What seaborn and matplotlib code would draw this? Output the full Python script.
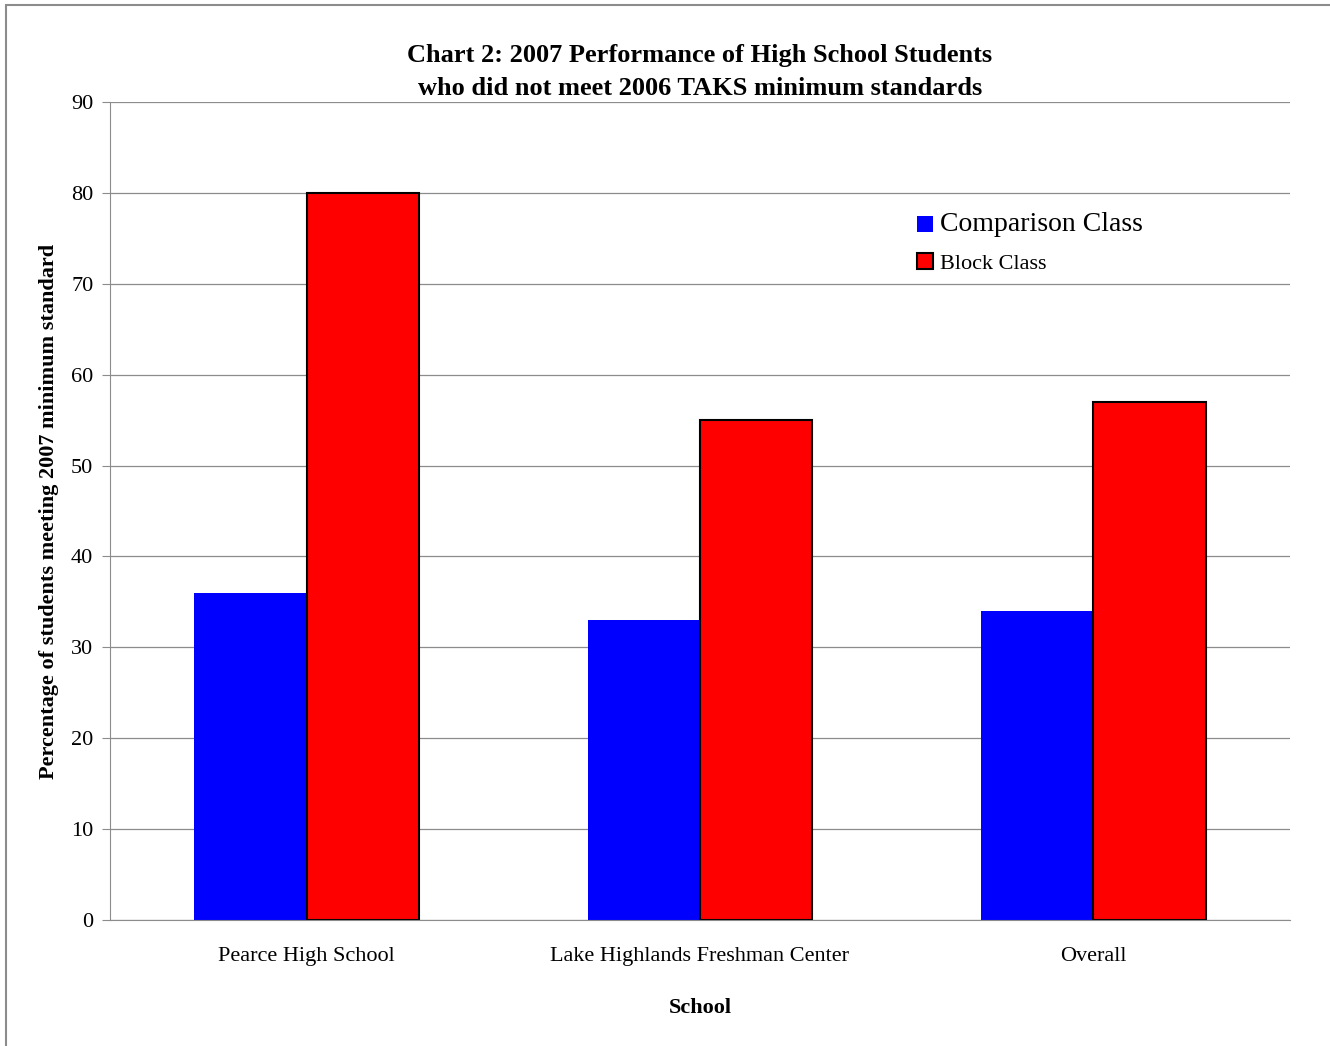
import pandas as pd
import matplotlib
matplotlib.use("Agg")
import matplotlib.pyplot as plt
import seaborn as sns
from matplotlib.patches import Patch, Rectangle

# Data
schools = ["Pearce High School", "Lake Highlands Freshman Center", "Overall"]
comparison = [36, 33, 34]
block = [80, 55, 57]
classes = ["Comparison Class", "Block Class"]
colors = {"Comparison Class": "#0000FF", "Block Class": "#FF0000"}

df = pd.DataFrame({
    "School": schools * 2,
    "Class": [classes[0]] * 3 + [classes[1]] * 3,
    "Value": comparison + block,
})

sns.set_style("white")
plt.rcParams["font.family"] = ["Liberation Serif", "DejaVu Serif"]
plt.rcParams["text.color"] = "black"
plt.rcParams["axes.labelcolor"] = "black"
plt.rcParams["xtick.color"] = "black"
plt.rcParams["ytick.color"] = "black"

fig = plt.figure(figsize=(13.3, 10.46), dpi=100)
ax = fig.add_axes([110 / 1330, 1 - 920 / 1046, 1180 / 1330, 818 / 1046])

sns.barplot(data=df, x="School", y="Value", hue="Class", order=schools,
            hue_order=classes, palette=colors, width=0.571, gap=0,
            saturation=1, ax=ax, legend=False)

# edges: comparison bars plain, block bars outlined black
for bar in ax.containers[0]:
    bar.set_edgecolor("none")
for bar in ax.containers[1]:
    bar.set_edgecolor("black")
    bar.set_linewidth(1.5)

ax.set_ylim(0, 90)
ax.set_xlim(-0.5, 2.5)
ax.set_yticks(range(0, 91, 10))
ax.yaxis.grid(True, color="#8c8c8c", linewidth=0.9)
ax.set_axisbelow(True)
for s in ["top", "right"]:
    ax.spines[s].set_visible(False)
for s in ["left", "bottom"]:
    ax.spines[s].set_color("#8c8c8c")
ax.tick_params(axis="y", left=True, length=6, color="#8c8c8c",
               labelcolor="black", labelsize=16, pad=6)
ax.tick_params(axis="x", bottom=False, labelcolor="black", labelsize=16, pad=16)

ax.set_xlabel("School", fontsize=16, fontweight="bold", labelpad=23)
ax.set_ylabel("Percentage of students meeting 2007 minimum standard",
              fontsize=16, fontweight="bold", labelpad=9)
ax.set_title("Chart 2: 2007 Performance of High School Students\n"
             "who did not meet 2006 TAKS minimum standards",
             fontsize=19, fontweight="bold", pad=5, linespacing=1.55)

handles = [Patch(facecolor=colors[classes[0]], edgecolor="none"),
           Patch(facecolor=colors[classes[1]], edgecolor="black", linewidth=1.5)]
leg = ax.legend(handles, classes, loc="upper left", fontsize=16,
                bbox_to_anchor=(0.684, 0.865), frameon=False,
                handlelength=0.72, handleheight=0.72, handletextpad=0.3,
                labelspacing=0.7, borderaxespad=0, borderpad=0)
leg.get_texts()[0].set_fontsize(20)
leg.get_texts()[1].set_fontsize(16)

# chart border (top and left edges visible)
fig.patches.append(Rectangle((6 / 1330, -0.1), 1.2, 1 - 5 / 1046 + 0.1,
                             transform=fig.transFigure, fill=False,
                             edgecolor="#8c8c8c", linewidth=1.5))

fig.savefig("out.png", dpi=100)
